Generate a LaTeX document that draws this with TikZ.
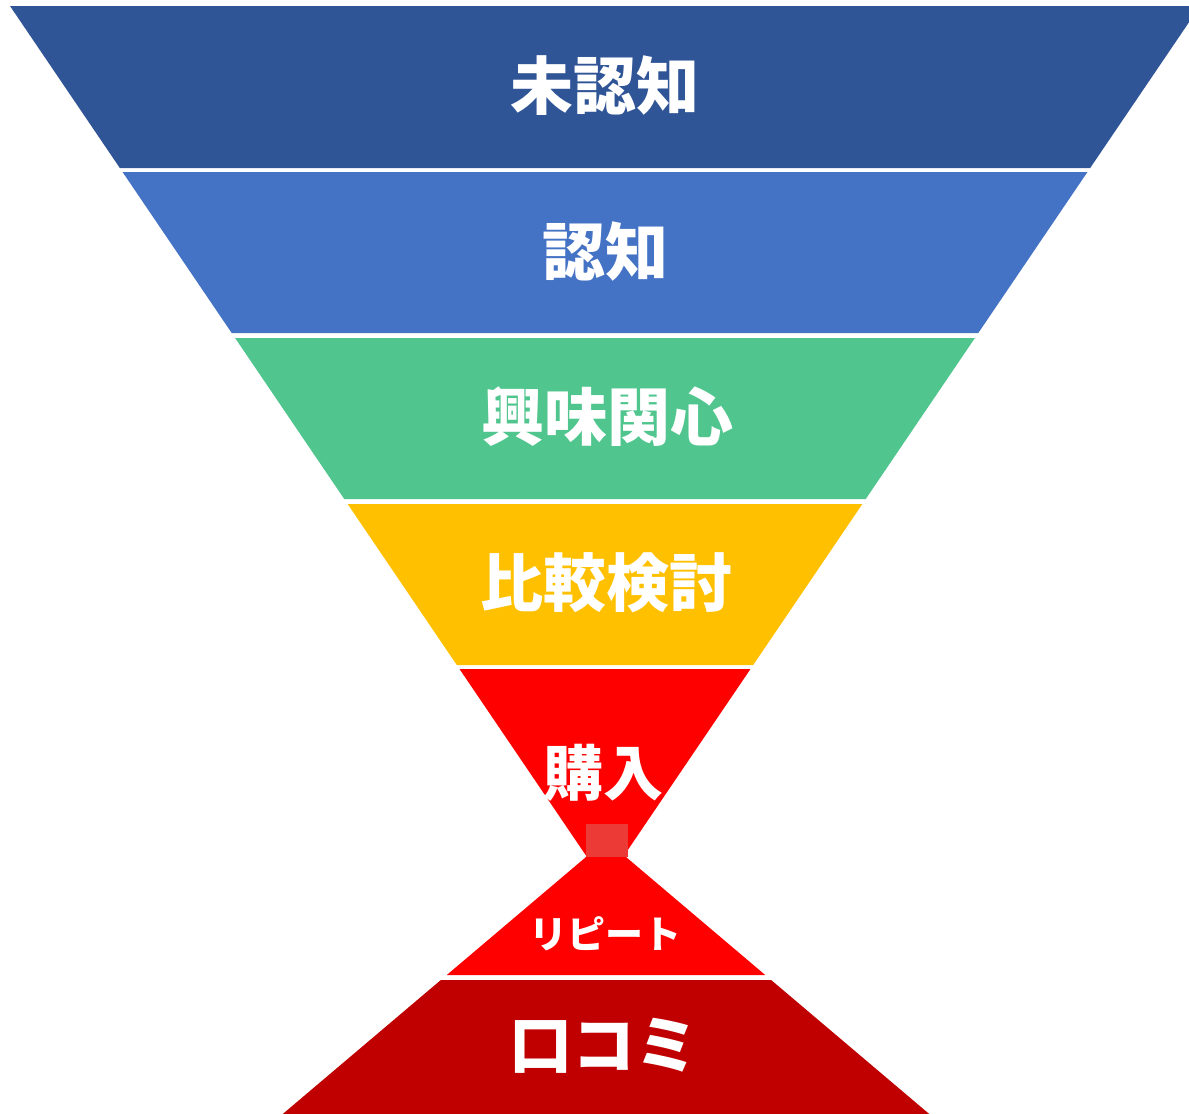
\documentclass[tikz,border=0pt]{standalone}
\usepackage{fontspec}
\newfontfamily\cjk{Noto Sans CJK JP}
\definecolor{bandA}{RGB}{47,85,151}
\definecolor{bandB}{RGB}{68,114,196}
\definecolor{bandC}{RGB}{80,198,142}
\definecolor{bandD}{RGB}{255,192,0}
\definecolor{bandE}{RGB}{255,0,0}
\definecolor{bandF}{RGB}{192,0,0}
\definecolor{sq}{RGB}{236,58,54}
\tikzset{
  lbl/.style={text=white,font=\cjk\bfseries\fontsize{63}{63}\selectfont,inner sep=0pt},
  lbls/.style={text=white,font=\cjk\bfseries\fontsize{38}{38}\selectfont,inner sep=0pt}
}
\begin{document}
\begin{tikzpicture}[x=1pt,y=-1pt]
\useasboundingbox (0,0) rectangle (1189,1114);
\clip (0,0) rectangle (1189,1114);
% upper funnel: left x(y)=10+0.678(y-6), right = 1200-0.678(y-6)
\def\L#1{10+0.678*(#1-6)}
\def\R#1{1200-0.678*(#1-6)}
\fill[bandA] ({\L{6}},6) -- ({\R{6}},6) -- ({\R{168}},168) -- ({\L{168}},168) -- cycle;
\fill[bandB] ({\L{172}},172) -- ({\R{172}},172) -- ({\R{333}},333) -- ({\L{333}},333) -- cycle;
\fill[bandC] ({\L{338}},338) -- ({\R{338}},338) -- ({\R{499}},499) -- ({\L{499}},499) -- cycle;
\fill[bandD] ({\L{504}},504) -- ({\R{504}},504) -- ({\R{665}},665) -- ({\L{665}},665) -- cycle;
\fill[bandE] ({\L{669}},669) -- ({\R{669}},669) -- ({\R{857}},857) -- ({\L{857}},857) -- cycle;
% lower funnel
\def\LL#1{586-1.18*(#1-857)}
\def\RR#1{626+1.18*(#1-857)}
\fill[bandE] ({\LL{857}},857) -- ({\RR{857}},857) -- ({\RR{975}},975) -- ({\LL{975}},975) -- cycle;
\fill[bandF] ({\LL{980}},980) -- ({\RR{980}},980) -- ({\RR{1114}},1114) -- ({\LL{1114}},1114) -- cycle;
\fill[sq] (586,824) rectangle (628,857);
% labels
\node[lbl] (t1) at (605,86) {未認知};
\node[lbl] (t2) at (605,251) {認知};
\node[lbl] (t3) at (607,417) {興味関心};
\node[lbl] (t4) at (606,583) {比較検討};
\node[lbl,font=\cjk\bfseries\fontsize{60}{60}\selectfont] (t5) at (603,773) {購入};
\node[lbls] (t6) at (605,934) {リピート};
\node[lbl] (t7) at (604,1046) {口コミ};
\end{tikzpicture}
\end{document}
